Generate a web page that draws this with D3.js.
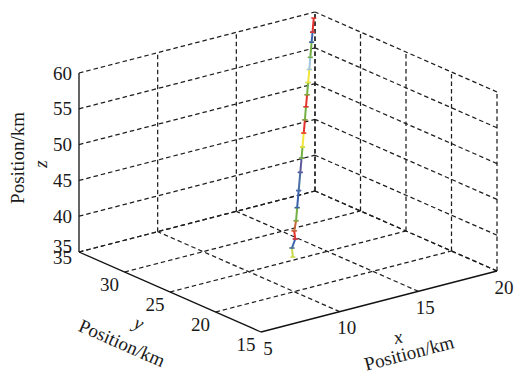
<!DOCTYPE html>
<html><head><meta charset="utf-8">
<script src="https://cdn.jsdelivr.net/npm/d3@7"></script>
<style>body{margin:0;background:#fff}svg{display:block}
svg text{font-family:"Liberation Serif","Times New Roman",Times,serif;}</style>
</head><body><svg id="c" width="516" height="377"></svg>
<script>
const xTicks = [5, 10, 15, 20];
const yTicks = [15, 20, 25, 30, 35];
const zTicks = [35, 40, 45, 50, 55, 60];
const xLabel = ["x", "Position/km"];
const yLabel = ["y", "Position/km"];
const zLabel = ["z", "Position/km"];

// trajectory breakpoints (bottom -> top)
const trajX = [13.10, 13.30, 13.60, 13.76, 14.06, 14.40, 14.85, 15.33, 15.71, 16.00, 16.37, 16.72, 17.06, 17.38, 17.70, 18.05, 18.36, 18.76, 19.03, 19.40];
const trajY = [25.50, 25.95, 26.10, 26.50, 26.81, 27.28, 27.89, 28.54, 29.06, 29.46, 29.96, 30.44, 30.91, 31.34, 31.78, 32.25, 32.68, 33.23, 33.59, 34.10];
const trajZ = [35.00, 35.90, 36.90, 37.74, 38.80, 40.17, 41.96, 43.86, 45.34, 46.50, 47.97, 49.35, 50.72, 51.98, 53.25, 54.62, 55.89, 57.47, 58.52, 60.00];
const segColors = ["#c9d94a", "#3b62ad", "#e4312b", "#c46a3a", "#74b043", "#3b62ad", "#4a6fa5", "#5e5a9c", "#74b043", "#f2e53b",
                   "#e4312b", "#74b043", "#e4312b", "#74b043", "#f2e53b", "#9fc6e0", "#74b043", "#3b62ad", "#e4312b"];

const svg = d3.select('#c');
const sx = d3.scaleLinear().domain([5, 20]).range([0, 1]);
const sy = d3.scaleLinear().domain([15, 35]).range([0, 1]);
const sz = d3.scaleLinear().domain([35, 60]).range([0, 1]);
const O = [261, 332], EX = [236, -61], EY = [-182, -80], EZ = [0, -179];
function P(x, y, z) {
  const a = sx(x), b = sy(y), c = sz(z);
  return [O[0] + a * EX[0] + b * EY[0] + c * EZ[0], O[1] + a * EX[1] + b * EY[1] + c * EZ[1]];
}
const x0 = 5, x1 = 20, y0 = 15, y1 = 35, z0 = 35, z1 = 60;

const grid = [];
xTicks.filter(t => t !== x0).forEach(t => grid.push([P(t, y1, z0), P(t, y1, z1)]));
zTicks.forEach(t => grid.push([P(x0, y1, t), P(x1, y1, t)]));
yTicks.forEach(t => grid.push([P(x1, t, z0), P(x1, t, z1)]));
zTicks.forEach(t => grid.push([P(x1, y0, t), P(x1, y1, t)]));
xTicks.filter(t => t !== x0).forEach(t => grid.push([P(t, y0, z0), P(t, y1, z0)]));
yTicks.filter(t => t !== y0).forEach(t => grid.push([P(x0, t, z0), P(x1, t, z0)]));

svg.append('g').selectAll('line').data(grid).join('line')
  .attr('x1', d => d[0][0]).attr('y1', d => d[0][1])
  .attr('x2', d => d[1][0]).attr('y2', d => d[1][1])
  .attr('stroke', '#1e1e1e').attr('stroke-width', 1.25).attr('stroke-dasharray', '4.5,3');

const axes = [
  [P(x0, y1, z0), P(x0, y1, z1)],
  [P(x0, y0, z0), P(x0, y1, z0)],
  [P(x0, y0, z0), P(x1, y0, z0)]
];
svg.append('g').selectAll('line').data(axes).join('line')
  .attr('x1', d => d[0][0]).attr('y1', d => d[0][1])
  .attr('x2', d => d[1][0]).attr('y2', d => d[1][1])
  .attr('stroke', '#111').attr('stroke-width', 1.3);

const txt = svg.append('g').attr('font-size', 19).attr('fill', '#1a1a1a');

zTicks.forEach(t => {
  const p = P(x0, y1, t);
  txt.append('text').attr('x', p[0] - 7).attr('y', p[1] + (t === z0 ? -6 : 0))
    .attr('text-anchor', 'end').attr('dominant-baseline', 'central').text(t);
});
yTicks.forEach(t => {
  const p = P(x0, t, z0);
  if (t === y1) {
    txt.append('text').attr('x', p[0] - 7).attr('y', p[1] + 5)
      .attr('text-anchor', 'end').attr('dominant-baseline', 'central').text(t);
  } else {
    txt.append('text').attr('x', p[0] - 15).attr('y', p[1] + 12)
      .attr('text-anchor', 'middle').attr('dominant-baseline', 'central').text(t);
  }
});
xTicks.forEach(t => {
  const p = P(t, y0, z0);
  txt.append('text').attr('x', p[0] + 7).attr('y', p[1] + 16)
    .attr('text-anchor', 'middle').attr('dominant-baseline', 'central').text(t);
});

function label(lines, cx1, cy1, cx2, cy2, rot) {
  txt.append('text').attr('transform', `translate(${cx1},${cy1}) rotate(${rot})`)
    .attr('text-anchor', 'middle').attr('dominant-baseline', 'central')
    .attr('font-style', 'italic').text(lines[0]);
  txt.append('text').attr('transform', `translate(${cx2},${cy2}) rotate(${rot})`)
    .attr('text-anchor', 'middle').attr('dominant-baseline', 'central').text(lines[1]);
}
label(zLabel, 40, 164, 17, 158, -90);
label(xLabel, 398, 337, 409, 353, -14.5);
label(yLabel, 139, 323, 122, 343, 23.7);

const segs = segColors.map((c, i) => ({
  a: P(trajX[i], trajY[i], trajZ[i]),
  b: P(trajX[i + 1], trajY[i + 1], trajZ[i + 1]),
  c
}));
const tg = svg.append('g');
tg.selectAll('line.seg').data(segs).join('line').attr('class', 'seg')
  .attr('x1', d => d.a[0]).attr('y1', d => d.a[1])
  .attr('x2', d => d.b[0]).attr('y2', d => d.b[1])
  .attr('stroke', d => d.c).attr('stroke-width', 2);
const marks = [];
segs.forEach(s => { marks.push({p: s.a, c: s.c}); marks.push({p: s.b, c: s.c}); });
tg.selectAll('line.mk').data(marks).join('line').attr('class', 'mk')
  .attr('x1', d => d.p[0] - 2.5).attr('y1', d => d.p[1])
  .attr('x2', d => d.p[0] + 2.5).attr('y2', d => d.p[1])
  .attr('stroke', d => d.c).attr('stroke-width', 1.5);
</script></body></html>
